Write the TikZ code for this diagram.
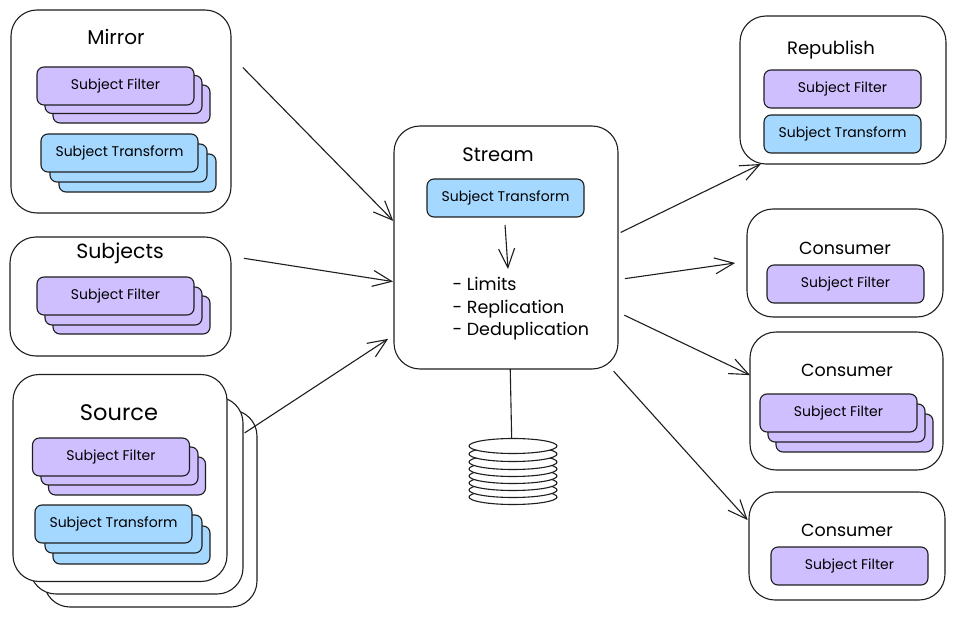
\documentclass[tikz,border=0pt]{standalone}
\usepackage{fontspec}
\setmainfont{Poppins}
\usepackage{tikz}
\usetikzlibrary{positioning,arrows.meta,shapes.geometric}
\definecolor{filterbg}{HTML}{D0BFFF}
\definecolor{transbg}{HTML}{A5D8FF}
\definecolor{inkline}{HTML}{1E1E1E}

\begin{document}
\begin{tikzpicture}[x=1pt,y=-1pt,line width=1.1pt,draw=inkline,text=black,
  bigbox/.style 2 args={draw,rounded corners=26pt,fill=white,outer sep=0pt,minimum width=#1pt,minimum height=#2pt},
  filt/.style={draw,rounded corners=7pt,fill=filterbg,outer sep=0pt,minimum width=157pt,minimum height=38pt,font=\fontsize{14}{16}\selectfont},
  trans/.style={draw,rounded corners=7pt,fill=transbg,outer sep=0pt,minimum width=157pt,minimum height=38pt,font=\fontsize{14}{16}\selectfont},
  ttl/.style={font=\fontsize{#1}{24}\selectfont,inner sep=0pt},
  diskpart/.style={draw,ellipse,fill=white,outer sep=0pt,inner sep=0pt,minimum width=88pt,minimum height=15pt},
  arr/.style={-{Straight Barb[length=19pt,width=16pt]}}]
\useasboundingbox (0,0) rectangle (956,618);
% left column
\node[bigbox={220}{203}] (mirror) at (121,111.5) {};
\node[ttl=20] (mirrorttl) at (116,37) {Mirror};
\node[filt] (mirrorf3) at (131.5,104) {};
\node[filt] (mirrorf2) at (123.5,94.5) {};
\node[filt] (mirrorf1) at (115.5,86) {Subject Filter};
\node[trans] (mirrort3) at (137.5,173) {};
\node[trans] (mirrort2) at (128.5,163) {};
\node[trans] (mirrort1) at (119.5,153) {Subject Transform};
\node[bigbox={221}{119}] (subjects) at (120.5,296.5) {};
\node[ttl=20.5] (subjectsttl) at (120,253) {Subjects};
\node[filt] (subjectsf3) at (131.5,315) {};
\node[filt] (subjectsf2) at (123.5,306) {};
\node[filt] (subjectsf1) at (115.5,296) {Subject Filter};
\node[bigbox={213}{197}] (sourcec) at (150.5,508.5) {};
\node[bigbox={213}{197}] (sourceb) at (136.5,495.5) {};
\node[bigbox={214}{207}] (source) at (120,478) {};
\node[ttl=22.5] (sourcettl) at (119,413) {Source};
\node[filt] (sourcef3) at (127,476) {};
\node[filt] (sourcef2) at (119.5,466) {};
\node[filt] (sourcef1) at (111,457) {Subject Filter};
\node[trans] (sourcet3) at (131.5,545) {};
\node[trans] (sourcet2) at (123.5,534) {};
\node[trans] (sourcet1) at (113.5,524) {Subject Transform};
% middle
\node[bigbox={224}{243}] (stream) at (506,247.5) {};
\node[ttl=19.5] (streamttl) at (498,155) {Stream};
\node[trans] (streamt) at (505.5,198) {Subject Transform};
\node[font=\fontsize{17.5}{22.5}\selectfont,align=left,anchor=west,inner sep=0pt] (limits) at (452,309) {- Limits\\- Replication\\- Deduplication};
\coordinate (limitstop) at (508,269);
\foreach \i/\y in {8/497,7/490,6/483,5/476,4/469,3/462,2/454,1/446}
  \node[diskpart] (disk\i) at (513,\y) {};
% right column
\node[bigbox={206}{148}] (republish) at (843,90) {};
\node[ttl=18] (republishttl) at (831,50) {Republish};
\node[filt] (republishf) at (842.5,89) {Subject Filter};
\node[trans] (republisht) at (842.5,134) {Subject Transform};
\node[bigbox={196}{108}] (consumera) at (845,263) {};
\node[ttl=17.5] (consumerattl) at (845,248) {Consumer};
\node[filt] (consumeraf) at (845.5,284) {Subject Filter};
\node[bigbox={193}{138}] (consumerb) at (846.5,401) {};
\node[ttl=17.5] (consumerbttl) at (847,370) {Consumer};
\node[filt] (consumerbf3) at (854.5,433) {};
\node[filt] (consumerbf2) at (846.5,423) {};
\node[filt] (consumerbf1) at (838.5,413) {Subject Filter};
\node[bigbox={196}{108}] (consumerc) at (847,546) {};
\node[ttl=17.5] (consumercttl) at (847,530) {Consumer};
\node[filt] (consumercf) at (849.5,566) {Subject Filter};
% connectors
\draw[arr,shorten <=17pt,shorten >=1pt] (mirror.27) -- (stream.167);
\draw[arr,shorten <=13pt,shorten >=1pt] (subjects.20) -- (stream.197);
\draw[arr,shorten <=2pt,shorten >=7pt] (sourceb.30) -- (stream.218);
\draw[arr,shorten <=3pt] (stream.7) -- (republish.222);
\draw[arr,shorten <=7pt,shorten >=12pt] (stream.-16) -- (consumera.179);
\draw[arr,shorten <=7pt] (stream.-30) -- (consumerb.165);
\draw[arr,shorten <=3pt,shorten >=2pt] (stream.-49) -- (consumerc.166);
\draw[arr,shorten <=8pt] (streamt.-93) -- (limitstop);
\draw (stream.-88) -- (disk1.100);
\end{tikzpicture}
\end{document}
